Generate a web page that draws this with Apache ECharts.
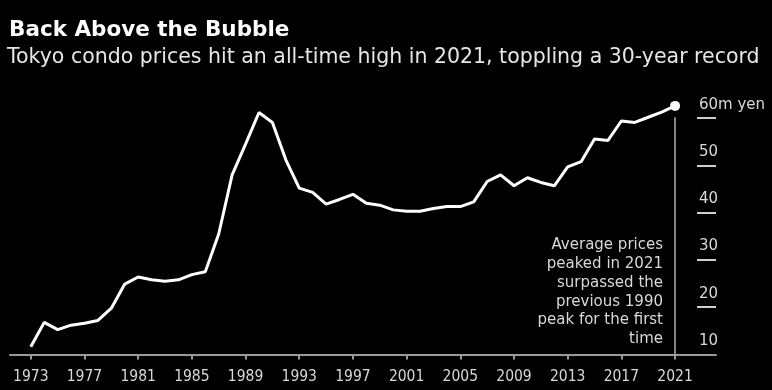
<!DOCTYPE html>
<html>
<head>
<meta charset="utf-8">
<script src="https://cdn.jsdelivr.net/npm/echarts@6/dist/echarts.min.js"></script>
<style>
html,body{margin:0;padding:0;background:#000;}
#chart{width:772px;height:390px;}
</style>
</head>
<body>
<div id="chart"></div>
<script>
var years = [1973,1974,1975,1976,1977,1978,1979,1980,1981,1982,1983,1984,1985,1986,1987,1988,1989,1990,1991,1992,1993,1994,1995,1996,1997,1998,1999,2000,2001,2002,2003,2004,2005,2006,2007,2008,2009,2010,2011,2012,2013,2014,2015,2016,2017,2018,2019,2020,2021];
var prices = [11.65,16.8,15.25,16.2,16.6,17.2,19.8,24.9,26.4,25.8,25.5,25.8,26.9,27.5,35.5,48.0,54.5,61.2,59.1,51.2,45.2,44.3,41.8,42.8,43.9,42.0,41.6,40.6,40.3,40.3,40.9,41.3,41.3,42.3,46.6,48.0,45.7,47.4,46.4,45.7,49.7,50.8,55.6,55.3,59.4,59.1,60.2,61.3,62.6];
var xTickLabels = [1973,1977,1981,1985,1989,1993,1997,2001,2005,2009,2013,2017,2021];
var yTickValues = [10,20,30,40,50,60];
var titleText = 'Back Above the Bubble';
var subtitleText = 'Tokyo condo prices hit an all-time high in 2021, toppling a 30-year record';
var noteLines = ['Average prices','peaked in 2021','surpassed the','previous 1990','peak for the first','time'];

var FONT = '"DejaVu Sans", Verdana, sans-serif';
var CFONT = '"DejaVu Sans Condensed", "DejaVu Sans", sans-serif';
var chart = echarts.init(document.getElementById('chart'), null, {renderer:'canvas'});
var seriesData = years.map(function(y,i){ return [y, prices[i]]; });
var lastIdx = years.length - 1;

var graphics = [
  {type:'text', x:9, y:30, style:{text:titleText, fill:'#ffffff', font:'bold 21.5px '+FONT, align:'left', verticalAlign:'middle'}},
  {type:'text', x:7, y:57.5, style:{text:subtitleText, fill:'#e6e6e6', font:'20.5px '+FONT, align:'left', verticalAlign:'middle'}}
];
noteLines.forEach(function(t,i){
  graphics.push({type:'text', x:663, y:245 + i*18.9, style:{text:t, fill:'#d8d8d8', font:'15px '+FONT, align:'right', verticalAlign:'middle'}});
});

chart.setOption({
  backgroundColor:'#000',
  animation:false,
  grid:{left:10, right:56, top:104, bottom:35.5},
  xAxis:{
    type:'value', min:1971.45, max:2024.05,
    axisLine:{show:true, lineStyle:{color:'#9a9a9a', width:2}},
    axisTick:{show:true, length:5, customValues:xTickLabels, lineStyle:{color:'#9a9a9a', width:2}},
    axisLabel:{customValues:xTickLabels, color:'#d8d8d8', fontFamily:CFONT, fontSize:15.5, margin:14, formatter:function(v){return String(v);}},
    splitLine:{show:false}
  },
  yAxis:{
    type:'value', position:'right', min:10, max:63,
    axisLine:{show:false},
    axisTick:{show:true, inside:true, length:19, customValues:yTickValues.slice(1), lineStyle:{color:'#cfcfcf', width:2}},
    axisLabel:{show:true, inside:true, customValues:yTickValues, align:'left', verticalAlign:'bottom', margin:17, padding:[0,0,6,0], color:'#d8d8d8', fontFamily:FONT, fontSize:15,
      formatter:function(v){ return v===60 ? '60m yen' : String(v); }},
    splitLine:{show:false}
  },
  series:[{
    type:'line',
    data:seriesData,
    showSymbol:true,
    symbol:'circle',
    symbolSize:function(v,p){ return p.dataIndex===lastIdx ? 10 : 0; },
    itemStyle:{color:'#ffffff'},
    lineStyle:{color:'#ffffff', width:3},
    clip:false,
    markLine:{
      silent:true, symbol:['none','none'], label:{show:false},
      lineStyle:{color:'#b0b0b0', width:1.5, type:'solid'},
      data:[[{coord:[years[lastIdx], 60.2]},{coord:[years[lastIdx], 10]}]]
    }
  }],
  graphic:graphics
});
</script>
</body>
</html>
